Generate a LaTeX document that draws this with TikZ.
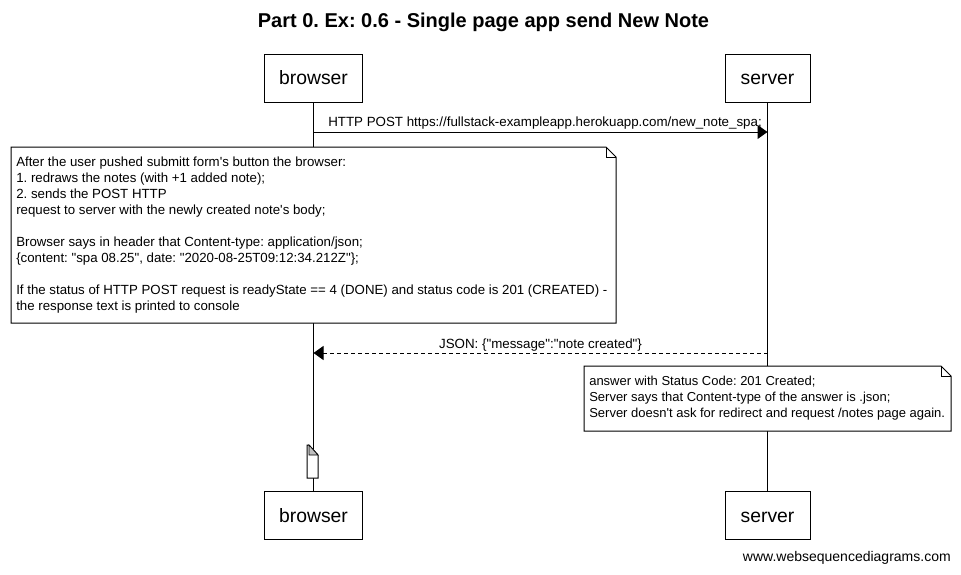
\documentclass[tikz,border=0pt]{standalone}
\usepackage{fontspec}
\newfontfamily\wsd{Liberation Sans}
\frenchspacing
\usetikzlibrary{arrows.meta}
\tikzset{
  actor/.style={draw=black, line width=0.75pt, fill=white, minimum width=73.5pt, minimum height=36pt, inner sep=0pt, text height=12.8pt, text depth=3pt, font=\wsd\fontsize{14.5}{16}\selectfont},
  lifeline/.style={draw=black, line width=0.75pt},
  msg/.style={draw=black, line width=0.75pt, -{Triangle[length=7.5pt,width=10.5pt]}},
  notebox/.style={draw=black, line width=0.75pt, fill=white},
  notetext/.style={anchor=north west, align=left, inner sep=0pt, font=\wsd\fontsize{9.95}{12}\selectfont},
  lbl/.style={inner sep=0pt, font=\wsd\fontsize{10}{12}\selectfont}
}
\begin{document}
\begin{tikzpicture}[x=0.75pt,y=-0.75pt]
\useasboundingbox[fill=white] (0,0) rectangle (961,575);
\node[font=\wsd\bfseries\fontsize{15}{17}\selectfont] (title) at (483.5,22) {Part 0. Ex: 0.6 - Single page app send New Note};
% actors
\node[actor] (bt) at (313.5,78) {browser};
\node[actor, minimum width=63.75pt] (st) at (767.5,78) {server};
\node[actor] (bb) at (313.5,515.5) {browser};
\node[actor, minimum width=63.75pt] (sb) at (767.5,515.5) {server};
\draw[lifeline] (bt.south) -- (bb.north);
\draw[lifeline] (st.south) -- (sb.north);
% message 1
\coordinate (m1a) at (313.5,132);
\coordinate (m1b) at (767.5,132);
\draw[msg] (m1a) -- (m1b);
\node[lbl, anchor=west] (m1l) at (328,123) {HTTP POST https://fullstack-exampleapp.herokuapp.com/new\_note\_spa;};
% note 1
\draw[notebox] (11,147) -- (606,147) -- (616,157) -- (616,323) -- (11,323) -- cycle;
\draw[line width=0.6pt] (606,147) -- (606,157) -- (616,157);
\node[notetext] (n1) at (16,157) {After the user pushed submitt form's button the browser:\\
1. redraws the notes (with +1 added note);\\
2. sends the POST HTTP\\
request to server with the newly created note's body;\\[12pt]
Browser says in header that Content-type: application/json;\\
\{content: "spa 08.25", date: "2020-08-25T09:12:34.212Z"\};\\[12pt]
If the status of HTTP POST request is readyState == 4 (DONE) and status code is 201 (CREATED) -\\
the response text is printed to console};
% message 2
\coordinate (m2a) at (767.5,353);
\coordinate (m2b) at (313.5,353);
\draw[msg, dash pattern=on 3pt off 2.25pt] (m2a) -- (m2b);
\node[lbl] (m2l) at (540.5,345) {JSON: \{"message":"note created"\}};
% note 2
\draw[notebox] (584,366) -- (941,366) -- (951,376) -- (951,431) -- (584,431) -- cycle;
\draw[line width=0.6pt] (941,366) -- (941,376) -- (951,376);
\node[notetext, font=\wsd\fontsize{9.75}{12}\selectfont] (n2) at (589,376) {answer with Status Code: 201 Created;\\
Server says that Content-type of the answer is .json;\\
Server doesn't ask for redirect and request /notes page again.};
% small note
\draw[notebox] (307,478) -- (307,445) -- (309,445) -- (318,455) -- (318,478) -- cycle;
\draw[line width=0.5pt, fill=gray!50] (309,445) -- (309,455) -- (318,455) -- cycle;
% footer
\node[lbl, anchor=east, font=\wsd\fontsize{10.5}{12}\selectfont] (foot) at (951,558) {www.websequencediagrams.com};
\end{tikzpicture}
\end{document}
